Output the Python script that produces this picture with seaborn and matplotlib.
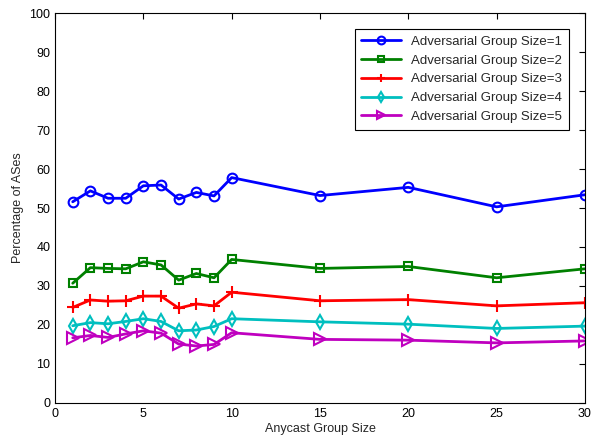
import numpy as np
import pandas as pd
import matplotlib
matplotlib.use('Agg')
import matplotlib.pyplot as plt
import seaborn as sns

# values
anycast_size = [1, 2, 3, 4, 5, 6, 7, 8, 9, 10, 15, 20, 25, 30]
adv1 = [51.6, 54.4, 52.5, 52.5, 55.7, 55.9, 52.3, 54.0, 53.1, 57.8, 53.2, 55.3, 50.3, 53.4]
adv2 = [30.7, 34.7, 34.5, 34.4, 36.2, 35.4, 31.5, 33.2, 32.1, 36.8, 34.5, 35.0, 32.1, 34.4]
adv3 = [24.5, 26.4, 26.1, 26.2, 27.4, 27.4, 24.3, 25.4, 24.9, 28.4, 26.2, 26.5, 24.9, 25.7]
adv4 = [19.8, 20.6, 20.3, 20.9, 21.6, 20.9, 18.5, 18.7, 19.6, 21.6, 20.8, 20.2, 19.1, 19.7]
adv5 = [16.7, 17.3, 16.8, 17.7, 18.5, 17.9, 15.1, 14.6, 15.0, 18.0, 16.3, 16.1, 15.4, 15.9]

series = [adv1, adv2, adv3, adv4, adv5]
labels = ['Adversarial Group Size=%d' % i for i in range(1, 6)]
colors = [(0, 0, 1), (0, 0.5, 0), (1, 0, 0), (0, 0.75, 0.75), (0.75, 0, 0.75)]
markers = ['o', 's', '+', 'd', '>']
msizes = [7, 6, 8, 7, 8]

sns.set_style('white')
plt.rcParams['font.family'] = ['Liberation Sans', 'DejaVu Sans']

fig = plt.figure(figsize=(5.92, 4.37), dpi=100)
ax = fig.add_axes([0.093, 0.078, 0.895, 0.892])

for vals, lab, col, mk, ms in zip(series, labels, colors, markers, msizes):
    df = pd.DataFrame({'x': anycast_size, 'y': vals})
    sns.lineplot(data=df, x='x', y='y', ax=ax, color=col, marker=mk,
                 markersize=ms, markerfacecolor='none', markeredgecolor=col,
                 markeredgewidth=1.5, linewidth=2, label=lab)

ax.set_xlim(0, 30)
ax.set_ylim(0, 100)
ax.set_xticks(np.arange(0, 31, 5))
ax.set_yticks(np.arange(0, 101, 10))
ax.tick_params(direction='in', top=True, right=True, length=4, width=0.8,
               labelsize=9, colors='black')
for sp in ax.spines.values():
    sp.set_color('black')
    sp.set_linewidth(0.8)
ax.set_xlabel('Anycast Group Size', fontsize=9, labelpad=2)
ax.set_ylabel('Percentage of ASes', fontsize=9, labelpad=4)

leg = ax.legend(loc='upper right', fontsize=9.5, fancybox=False, framealpha=1,
                edgecolor='black', borderaxespad=1.2, handlelength=3,
                labelspacing=0.5, borderpad=0.5, markerscale=0.8)
leg.get_frame().set_linewidth(0.8)

fig.savefig('out.png', dpi=100)
